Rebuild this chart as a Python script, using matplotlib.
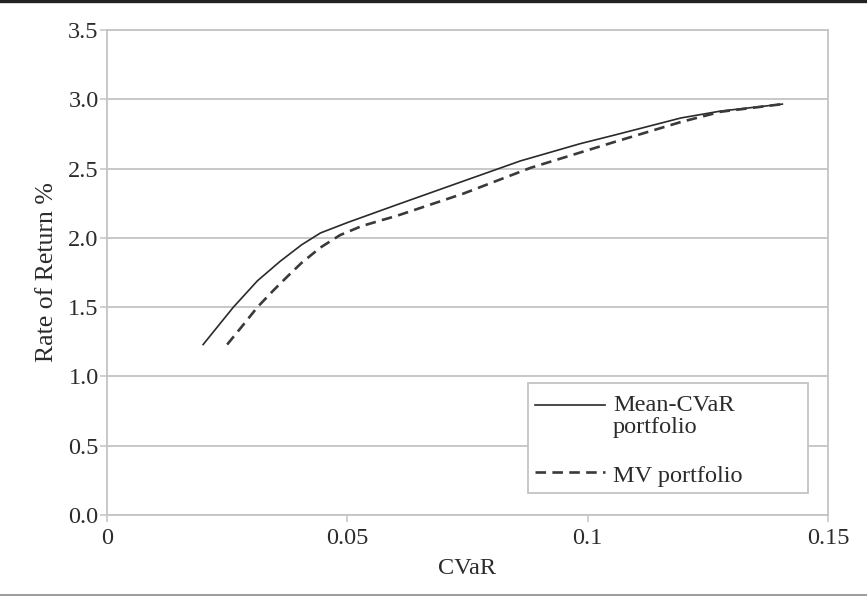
import matplotlib.pyplot as plt
from matplotlib.lines import Line2D
from matplotlib.patches import Rectangle

# Efficient frontiers: CVaR vs rate of return (%)
cvar_mean_cvar = [0.0200, 0.0235, 0.0263, 0.0313, 0.0360, 0.0405, 0.0444, 0.0500,
                  0.0604, 0.0742, 0.0860, 0.0985, 0.1054, 0.1194, 0.1277, 0.1405]
ret_mean_cvar = [1.23, 1.38, 1.50, 1.69, 1.83, 1.95, 2.035, 2.11,
                 2.24, 2.41, 2.555, 2.68, 2.74, 2.865, 2.915, 2.965]

cvar_mv = [0.0250, 0.0283, 0.0313, 0.0346, 0.0375, 0.0405, 0.0444, 0.0485,
           0.0530, 0.0569, 0.0604, 0.0742, 0.0881, 0.1054, 0.1194, 0.1277, 0.1405]
ret_mv = [1.23, 1.37, 1.50, 1.62, 1.72, 1.82, 1.93, 2.02,
          2.085, 2.125, 2.16, 2.32, 2.505, 2.69, 2.836, 2.91, 2.965]

x_ticks = [0, 0.05, 0.1, 0.15]
x_tick_labels = ["0", "0.05", "0.1", "0.15"]
y_ticks = [0.0, 0.5, 1.0, 1.5, 2.0, 2.5, 3.0, 3.5]

label_mean_cvar = "Mean-CVaR\nportfolio"
label_mv = "MV portfolio"

plt.rcParams["font.family"] = ["Liberation Serif", "DejaVu Serif"]
GRID = "#c4c4c4"
TEXT = "#2b2b2b"

fig = plt.figure(figsize=(8.67, 5.96), dpi=100)
ax = fig.add_axes([0.1234, 0.1359, 0.8316, 0.8138])

ax.plot(cvar_mean_cvar, ret_mean_cvar, color="#2a2a2a", lw=1.2, zorder=3)
ax.plot(cvar_mv, ret_mv, color="#3a3a3a", lw=1.9, dashes=(4, 2.4), zorder=3)

ax.set_xlim(0, 0.15)
ax.set_ylim(0, 3.5)
ax.set_xticks(x_ticks)
ax.set_xticklabels(x_tick_labels)
ax.set_yticks(y_ticks)
ax.set_yticklabels([f"{v:.1f}" for v in y_ticks])

ax.yaxis.grid(True, color=GRID, lw=1.3, zorder=0)
ax.set_axisbelow(True)
for side in ["left", "right", "top", "bottom"]:
    ax.spines[side].set_color(GRID)
    ax.spines[side].set_linewidth(1.3)

ax.tick_params(axis="both", direction="out", length=5, width=1.1, color=GRID,
               labelsize=17.5, labelcolor=TEXT)
ax.tick_params(axis="x", pad=4)
ax.tick_params(axis="y", pad=1)

ax.set_xlabel("CVaR", fontsize=17.5, color=TEXT, labelpad=7)
ax.set_ylabel("Rate of Return %", fontsize=18.5, color=TEXT, labelpad=7)

# legend drawn by hand so the handle lines up with the first text line
ax.add_patch(Rectangle((0.584, 0.0454), 0.388, 0.2268, transform=ax.transAxes,
                       facecolor="white", edgecolor=GRID, lw=1.3, zorder=4))
ax.add_line(Line2D([0.594, 0.691], [0.2268, 0.2268], transform=ax.transAxes,
                   color="#2a2a2a", lw=1.2, zorder=5))
ax.add_line(Line2D([0.594, 0.691], [0.0887, 0.0887], transform=ax.transAxes,
                   color="#3a3a3a", lw=1.9, dashes=(4, 2.4), zorder=5))
ax.text(0.702, 0.169, label_mean_cvar, transform=ax.transAxes, va="baseline", ha="left",
        fontsize=17.5, color=TEXT, linespacing=1.05, zorder=5)
ax.text(0.702, 0.068, label_mv, transform=ax.transAxes, va="baseline", ha="left",
        fontsize=17.5, color=TEXT, zorder=5)

# rules above and below the figure
fig.add_artist(Line2D([0, 1], [0.9975, 0.9975], transform=fig.transFigure,
                      color="#222222", lw=2.4))
fig.add_artist(Line2D([0, 1], [0.0025, 0.0025], transform=fig.transFigure,
                      color="#8a8a8a", lw=1.2))

fig.savefig("out.png", dpi=100)
